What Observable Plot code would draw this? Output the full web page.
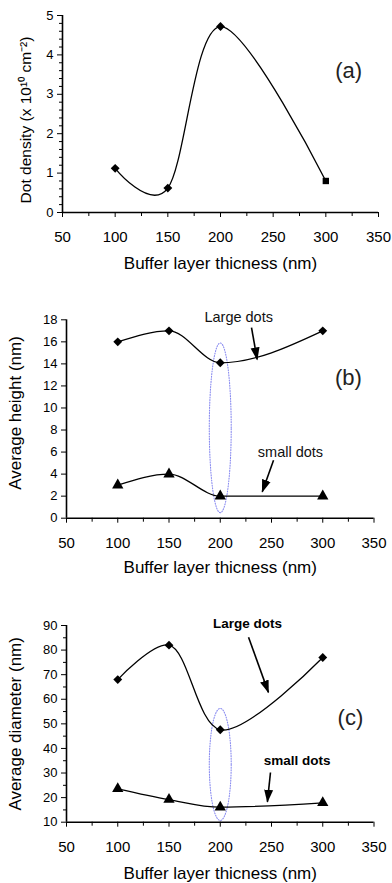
<!DOCTYPE html>
<html><head><meta charset="utf-8">
<script src="https://cdn.jsdelivr.net/npm/d3@7"></script>
<script src="https://cdn.jsdelivr.net/npm/@observablehq/plot@0.6"></script>
<style>body{margin:0;background:#fff} svg{display:block}</style>
</head><body><div id="chart"></div>
<script>
// ---- data ----
const thickness = [100, 150, 200, 300];
const dotDensity = [1.12, 0.62, 4.72, 0.8];
const densitySymbols = ["diamond2", "diamond2", "diamond2", "square"];
const heightLarge = [16, 17, 14.1, 17];
const heightSmall = [3, 4, 2, 2];
const diamLarge = [68, 82, 47.6, 77];
const diamSmall = [23.6, 19.2, 16.1, 17.9];

const xTicks = [50, 100, 150, 200, 250, 300, 350];
const xMinor = [75, 125, 175, 225, 275, 325];
const yTicksA = [0, 1, 2, 3, 4, 5];
const yTicksB = [0, 2, 4, 6, 8, 10, 12, 14, 16, 18];
const yTicksC = [10, 20, 30, 40, 50, 60, 70, 80, 90];

const xTitle = "Buffer layer thicness (nm)";
const yTitleA = "Dot density (x 10\u00b9\u2070 cm\u207b\u00b2)";
const yTitleB = "Average height (nm)";
const yTitleC = "Average diameter (nm)";

// annotations (data coordinates)
const ellipseB = {cx: 200, cy: 8.2, rx: 10.7, ry: 7.7};
const ellipseC = {cx: 200, cy: 33.5, rx: 10.7, ry: 22.8};
const labelsB = [{x: 218, y: 18.2, text: "Large dots"}, {x: 268.5, y: 6.0, text: "small dots"}];
const arrowsB = [{x1: 230.5, y1: 17.3, x2: 236, y2: 14.4}, {x1: 252, y1: 5.25, x2: 241, y2: 2.4}];
const labelsC = [{x: 226.6, y: 90.8, text: "Large dots"}, {x: 275, y: 35.1, text: "small dots"}];
const arrowsC = [{x1: 227.6, y1: 85.2, x2: 247, y2: 62.8}, {x1: 249, y1: 30.2, x2: 246, y2: 18.3}];

const FONT = "'Liberation Sans', Arial, sans-serif";
const rows = vals => thickness.map((t, i) => ({t, v: vals[i]}));
const ellipsePts = e => d3.range(0, 361, 4).map(a => ({
  x: e.cx + e.rx * Math.cos(a * Math.PI / 180),
  y: e.cy + e.ry * Math.sin(a * Math.PI / 180)
}));

function frameMarks(y0, yTicks, yMinor, xTitleDy, yTitleDx, yTitleDy, yTitle, yTitleSize) {
  return [
    Plot.axisX({ticks: xTicks, tickSize: 5, tickPadding: 14, fontSize: 15, label: null, tickFormat: d => d}),
    Plot.axisX({ticks: xMinor, tickSize: 4, text: null, label: null}),
    Plot.axisY({ticks: yTicks, tickSize: 5, tickPadding: 4, fontSize: 13, label: null, tickFormat: d => d}),
    yMinor.length ? Plot.axisY({ticks: yMinor, tickSize: 3, text: null, label: null}) : null,
    Plot.ruleX([50], {strokeWidth: 1.6}),
    Plot.ruleY([y0], {strokeWidth: 1.6}),
    Plot.text([xTitle], {frameAnchor: "bottom", dy: xTitleDy, fontSize: 17, lineAnchor: "middle", textAnchor: "middle"}),
    Plot.text([yTitle], {frameAnchor: "left", rotate: -90, dx: yTitleDx, dy: yTitleDy, fontSize: yTitleSize, lineAnchor: "middle", textAnchor: "middle"})
  ];
}

function addArrowHeads(svg, id) {
  const s = d3.select(svg);
  s.append("defs").append("marker")
    .attr("id", id).attr("viewBox", "-12 -5 14 10")
    .attr("markerWidth", 14).attr("markerHeight", 10)
    .attr("markerUnits", "userSpaceOnUse")
    .attr("refX", 0).attr("refY", 0).attr("orient", "auto")
    .append("path").attr("d", "M-12,-4.5L1,0L-12,4.5Z").attr("fill", "black");
  s.selectAll("g[aria-label=link] path").attr("marker-end", `url(#${id})`);
}

const chart = document.getElementById("chart");

// ---- panel (a) ----
const pa = Plot.plot({
  width: 392, height: 290,
  marginLeft: 62, marginRight: 14, marginTop: 15, marginBottom: 78,
  style: {fontFamily: FONT, background: "white", color: "black", overflow: "visible"},
  x: {domain: [50, 350]},
  y: {domain: [0, 5]},
  marks: [
    ...frameMarks(0, yTicksA, d3.range(0, 5.01, 0.2).filter(v => Math.abs(v - Math.round(v)) > 1e-6),
      51, -36, 6, yTitleA, 15.5),
    Plot.line(rows(dotDensity), {x: "t", y: "v", curve: "cardinal", tension: 0, stroke: "black", strokeWidth: 1.3}),
    Plot.dot(rows(dotDensity).filter((d, i) => densitySymbols[i] === "diamond2"), {x: "t", y: "v", symbol: "diamond2", r: 4, fill: "black"}),
    Plot.dot(rows(dotDensity).filter((d, i) => densitySymbols[i] === "square"), {x: "t", y: "v", symbol: "square", r: 3.6, fill: "black"}),
    Plot.text(["(a)"], {x: 321.6, y: 3.6, fontSize: 22, fontWeight: 300, fill: "#222"})
  ]
});
chart.appendChild(pa);

// ---- panel (b) ----
const pb = Plot.plot({
  width: 392, height: 300,
  marginLeft: 66, marginRight: 18.5, marginTop: 29.3, marginBottom: 72.3,
  style: {fontFamily: FONT, background: "white", color: "black", overflow: "visible"},
  x: {domain: [50, 350]},
  y: {domain: [0, 18]},
  marks: [
    ...frameMarks(0, yTicksB, [], 49, -51, -6, yTitleB, 17),
    Plot.line(ellipsePts(ellipseB), {x: "x", y: "y", stroke: "#8a8cf0", strokeWidth: 1.1, strokeDasharray: "1,1.6", curve: "linear"}),
    Plot.line(rows(heightLarge), {x: "t", y: "v", curve: "monotone-x", stroke: "black", strokeWidth: 1.3}),
    Plot.line(rows(heightSmall), {x: "t", y: "v", curve: "monotone-x", stroke: "black", strokeWidth: 1.3}),
    Plot.dot(rows(heightLarge), {x: "t", y: "v", symbol: "diamond2", r: 4, fill: "black"}),
    Plot.dot(rows(heightSmall), {x: "t", y: "v", symbol: "triangle", r: 4.2, fill: "black"}),
    Plot.link(arrowsB, {x1: "x1", y1: "y1", x2: "x2", y2: "y2", stroke: "black", strokeWidth: 1.6}),
    Plot.text(labelsB, {x: "x", y: "y", text: "text", fontSize: 14.5, fill: "#111"}),
    Plot.text(["(b)"], {x: 325, y: 12.7, fontSize: 22, fontWeight: 300, fill: "#222"})
  ]
});
addArrowHeads(pb, "ahb");
chart.appendChild(pb);

// ---- panel (c) ----
const pc = Plot.plot({
  width: 392, height: 293,
  marginLeft: 66, marginRight: 18.5, marginTop: 35, marginBottom: 61.3,
  style: {fontFamily: FONT, background: "white", color: "black", overflow: "visible"},
  x: {domain: [50, 350]},
  y: {domain: [10, 90]},
  marks: [
    ...frameMarks(10, yTicksC, [15, 25, 35, 45, 55, 65, 75, 85], 51, -51, 0, yTitleC, 17),
    Plot.line(ellipsePts(ellipseC), {x: "x", y: "y", stroke: "#8a8cf0", strokeWidth: 1.1, strokeDasharray: "1,1.6", curve: "linear"}),
    Plot.line(rows(diamLarge), {x: "t", y: "v", curve: "catmull-rom", stroke: "black", strokeWidth: 1.3}),
    Plot.line(rows(diamSmall), {x: "t", y: "v", curve: "monotone-x", stroke: "black", strokeWidth: 1.3}),
    Plot.dot(rows(diamLarge), {x: "t", y: "v", symbol: "diamond2", r: 4, fill: "black"}),
    Plot.dot(rows(diamSmall), {x: "t", y: "v", symbol: "triangle", r: 4.2, fill: "black"}),
    Plot.link(arrowsC, {x1: "x1", y1: "y1", x2: "x2", y2: "y2", stroke: "black", strokeWidth: 1.6}),
    Plot.text(labelsC, {x: "x", y: "y", text: "text", fontSize: 13.5, fontWeight: "bold", fill: "black", letterSpacing: "-0.5px"}),
    Plot.text(["(c)"], {x: 327, y: 52.6, fontSize: 22, fontWeight: 300, fill: "#222"})
  ]
});
addArrowHeads(pc, "ahc");
chart.appendChild(pc);
</script>
</body></html>
